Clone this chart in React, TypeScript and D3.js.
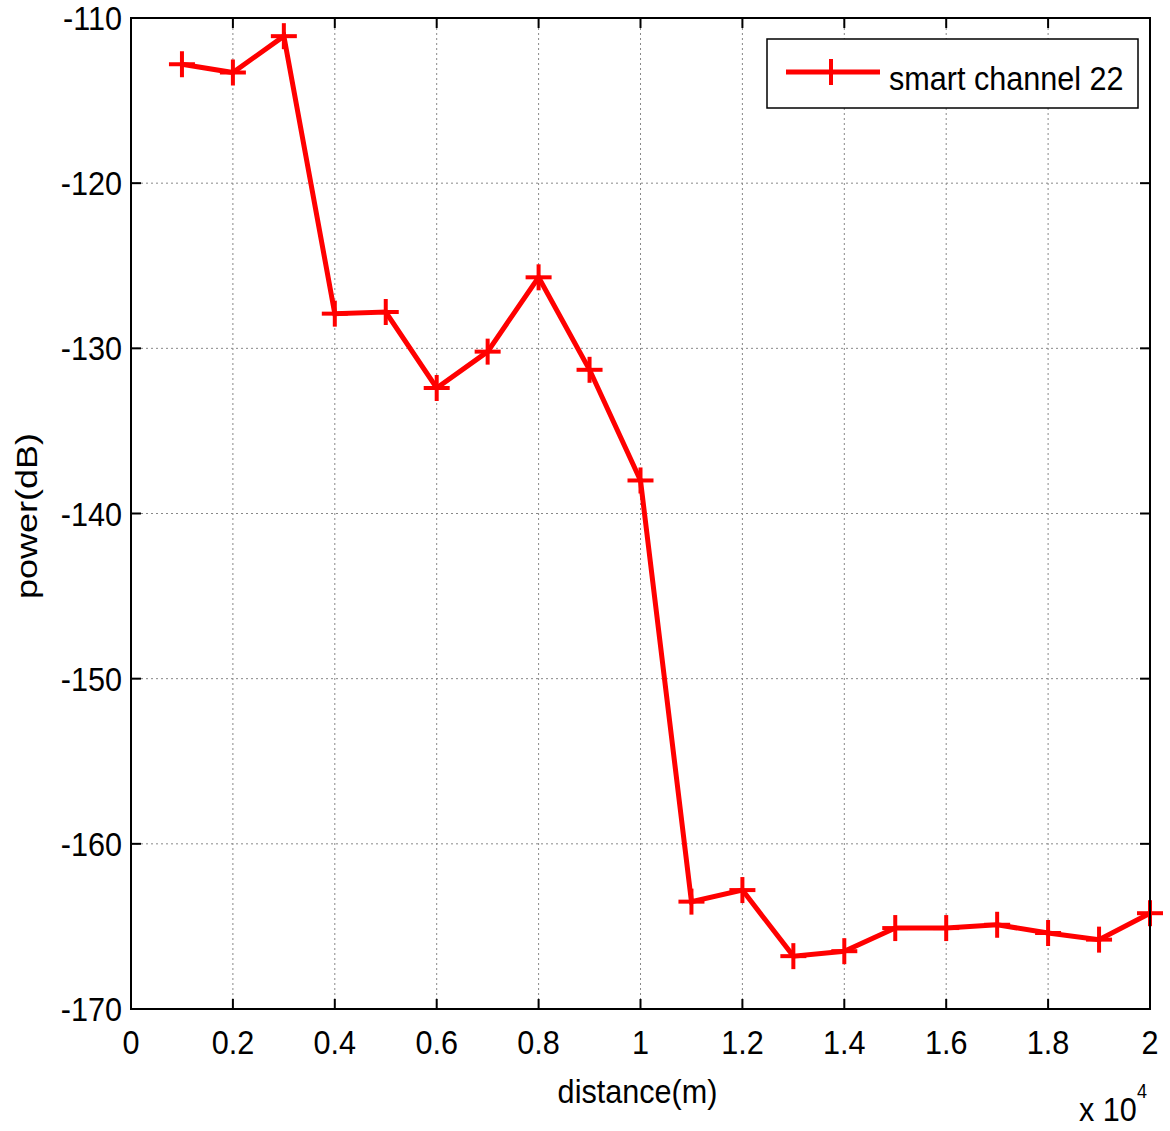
import React from 'react';
import * as d3 from 'd3';

// distance in units of 10^4 m
const distances = [0.1, 0.2, 0.3, 0.4, 0.5, 0.6, 0.7, 0.8, 0.9, 1.0, 1.1, 1.2, 1.3, 1.4, 1.5, 1.6, 1.7, 1.8, 1.9, 2.0];
const power = [-112.8, -113.3, -111.1, -127.9, -127.8, -132.4, -130.2, -125.7, -131.3, -138.0,
  -163.5, -162.8, -166.8, -166.5, -165.1, -165.1, -164.9, -165.4, -165.8, -164.2];
const xTicks = [0, 0.2, 0.4, 0.6, 0.8, 1, 1.2, 1.4, 1.6, 1.8, 2];
const yTicks = [-110, -120, -130, -140, -150, -160, -170];
const seriesName = 'smart channel 22';

const W = 1170;
const H = 1131;
const margin = { left: 131, right: 20, top: 18, bottom: 122 };
const FONT = '"Liberation Sans", Arial, sans-serif';
const SX = 0.9;

export default function App() {
  const x = d3.scaleLinear().domain([0, 2]).range([margin.left, W - margin.right]);
  const y = d3.scaleLinear().domain([-170, -110]).range([H - margin.bottom, margin.top]);
  const x0 = x.range()[0], x1 = x.range()[1];
  const y0 = y.range()[1], y1 = y.range()[0];

  const line = d3.line<number>()
    .x((_, i) => x(distances[i]))
    .y(d => y(d));

  const plus = (cx: number, cy: number, k: string | number) => (
    <g key={k} stroke="#ff0000" strokeWidth={4}>
      <line x1={cx - 13} x2={cx + 13} y1={cy} y2={cy} />
      <line x1={cx} x2={cx} y1={cy - 13} y2={cy + 13} />
    </g>
  );

  const label = (tx: number, ty: number, s: string, anchor: string, size = 34, k?: string | number) => (
    <text key={k} transform={`translate(${tx},${ty}) scale(${SX},1)`} textAnchor={anchor}
      fontSize={size} fontFamily={FONT} fill="#000">{s}</text>
  );

  const tickLen = 10;

  return (
    <svg width={W} height={H} style={{ position: 'absolute', left: 0, top: 0, background: '#fff' }}>
      <rect x={0} y={0} width={W} height={H} fill="#fff" />
      {/* grid */}
      <g stroke="#888" strokeWidth={1} strokeDasharray="2,3">
        {xTicks.slice(1, -1).map(t => (
          <line key={'gx' + t} x1={x(t)} x2={x(t)} y1={y0} y2={y1} />
        ))}
        {yTicks.slice(1, -1).map(t => (
          <line key={'gy' + t} x1={x0} x2={x1} y1={y(t)} y2={y(t)} />
        ))}
      </g>
      {/* ticks */}
      <g stroke="#000" strokeWidth={2}>
        {xTicks.map(t => (
          <g key={'tx' + t}>
            <line x1={x(t)} x2={x(t)} y1={y1} y2={y1 - tickLen} />
            <line x1={x(t)} x2={x(t)} y1={y0} y2={y0 + tickLen} />
          </g>
        ))}
        {yTicks.map(t => (
          <g key={'ty' + t}>
            <line x1={x0} x2={x0 + tickLen} y1={y(t)} y2={y(t)} />
            <line x1={x1} x2={x1 - tickLen} y1={y(t)} y2={y(t)} />
          </g>
        ))}
      </g>
      {/* data */}
      <path d={line(power) || ''} fill="none" stroke="#ff0000" strokeWidth={5} strokeLinejoin="miter" />
      {power.map((v, i) => plus(x(distances[i]), y(v), i))}
      {/* frame */}
      <rect x={x0} y={y0} width={x1 - x0} height={y1 - y0} fill="none" stroke="#000" strokeWidth={2} />
      {/* tick labels */}
      {xTicks.map(t => label(x(t), y1 + 45, String(t), 'middle', 34, 'lx' + t))}
      {yTicks.map(t => label(x0 - 9, y(t) + 12, String(t), 'end', 34, 'ly' + t))}
      {/* axis labels */}
      {label((x0 + x1) / 2 - 3, 1103, 'distance(m)', 'middle', 34)}
      <text transform={`translate(37,516) rotate(-90) scale(1.2,1)`} textAnchor="middle"
        fontSize={30} fontFamily={FONT}>power(dB)</text>
      {label(1079, 1121, 'x 10', 'start', 34)}
      {label(1137, 1098, '4', 'start', 20)}
      {/* legend */}
      <rect x={767} y={39} width={371} height={69} fill="#fff" stroke="#000" strokeWidth={1.5} />
      <line x1={786} x2={880} y1={72} y2={72} stroke="#ff0000" strokeWidth={5} />
      {plus(831, 72, 'leg')}
      {label(889, 90, seriesName, 'start', 34)}
    </svg>
  );
}
